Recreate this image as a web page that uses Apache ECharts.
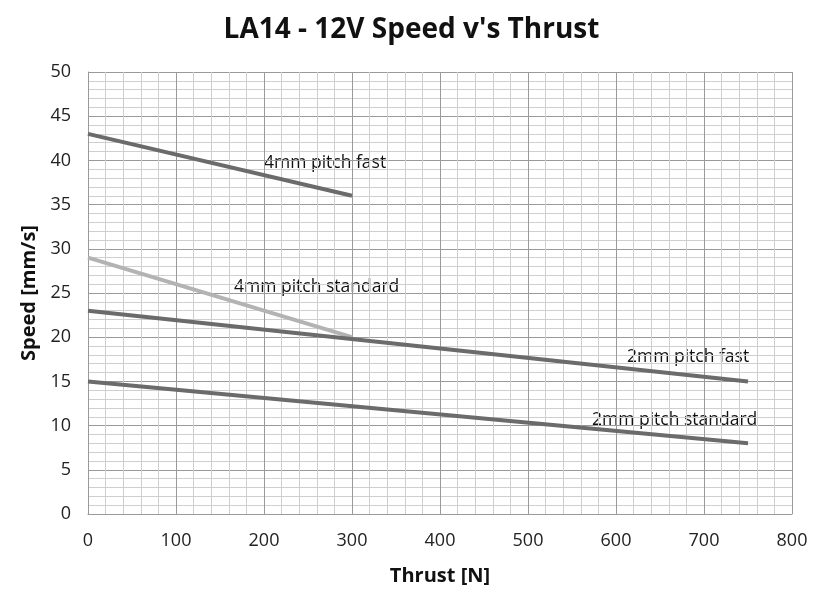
<!DOCTYPE html>
<html>
<head>
<meta charset="utf-8">
<script src="https://cdn.jsdelivr.net/npm/echarts@6/dist/echarts.min.js"></script>
<style>
  html, body { margin: 0; padding: 0; background: #fff; }
  #chart { width: 823px; height: 595px; }
</style>
</head>
<body>
<div id="chart"></div>
<script>
// values: [thrust N, speed mm/s]
const fast4mm = [[0, 43], [300, 36]]
const standard4mm = [[0, 29], [300, 20]]
const fast2mm = [[0, 23], [750, 15]]
const standard2mm = [[0, 15], [750, 8]]

const seriesNames = ['4mm pitch fast', '4mm pitch standard', '2mm pitch fast', '2mm pitch standard']

const fontFamily = 'Open Sans'
const darkLine = '#6b6b6b'
const lightLine = '#b3b3b3'

const chart = echarts.init(document.getElementById('chart'))

function lineSeries(name, data, color) {
  return {
    name: name,
    type: 'line',
    data: data,
    symbol: 'none',
    lineStyle: { color: color, width: 4 },
    animation: false
  }
}

function note(text, x, y) {
  return {
    type: 'text',
    left: x,
    top: y,
    style: { text: text, fill: '#111', font: '17.5px "' + fontFamily + '"' }
  }
}

chart.setOption({
  backgroundColor: '#fff',
  title: {
    text: "LA14 - 12V Speed v's Thrust",
    left: 'center',
    top: 11,
    textStyle: { fontFamily: fontFamily, fontSize: 28, fontWeight: 'bold', color: '#111' }
  },
  grid: { left: 88, right: 31, top: 72, bottom: 81 },
  xAxis: {
    type: 'value',
    min: 0,
    max: 800,
    interval: 100,
    name: 'Thrust [N]',
    nameLocation: 'middle',
    nameGap: 52,
    nameTextStyle: { fontFamily: fontFamily, fontSize: 20, fontWeight: 'bold', color: '#111' },
    axisLine: { show: true, lineStyle: { color: '#999' } },
    axisTick: { show: false },
    axisLabel: { fontFamily: fontFamily, fontSize: 18, color: '#222', margin: 18 },
    splitLine: { show: true, lineStyle: { color: '#9a9a9a', width: 1 } },
    minorTick: { show: false, splitNumber: 5 },
    minorSplitLine: { show: true, lineStyle: { color: '#cfcfcf', width: 1 } }
  },
  yAxis: {
    type: 'value',
    min: 0,
    max: 50,
    interval: 5,
    name: 'Speed [mm/s]',
    nameLocation: 'middle',
    nameGap: 48,
    nameTextStyle: { fontFamily: fontFamily, fontSize: 20, fontWeight: 'bold', color: '#111' },
    axisLine: { show: true, lineStyle: { color: '#999' } },
    axisTick: { show: false },
    axisLabel: { fontFamily: fontFamily, fontSize: 18, color: '#222', margin: 17 },
    splitLine: { show: true, lineStyle: { color: '#9a9a9a', width: 1 } },
    minorTick: { show: false, splitNumber: 5 },
    minorSplitLine: { show: true, lineStyle: { color: '#cfcfcf', width: 1 } }
  },
  series: [
    lineSeries(seriesNames[0], fast4mm, darkLine),
    lineSeries(seriesNames[1], standard4mm, lightLine),
    lineSeries(seriesNames[2], fast2mm, darkLine),
    lineSeries(seriesNames[3], standard2mm, darkLine)
  ],
  graphic: [
    note(seriesNames[0], 264, 154),
    note(seriesNames[1], 234, 278),
    note(seriesNames[2], 627, 348),
    note(seriesNames[3], 592, 411)
  ]
})
</script>
</body>
</html>
